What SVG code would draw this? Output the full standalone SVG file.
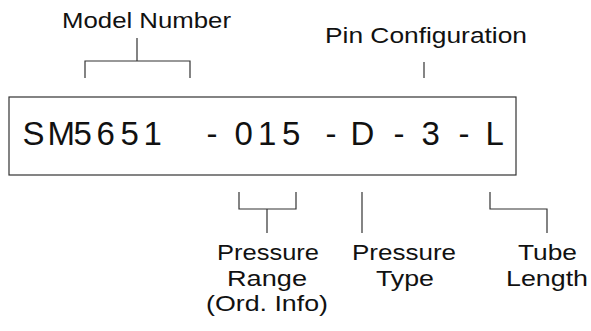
<svg xmlns="http://www.w3.org/2000/svg" width="591" height="331" viewBox="0 0 591 331">
<style>
.lbl{font-family:"Liberation Sans",Arial,sans-serif;font-size:22px;fill:#111}
.main{font-family:"Liberation Sans",Arial,sans-serif;font-size:33px;fill:#111}
.ln{fill:none;stroke:#333;stroke-width:1.2}
</style>
<rect width="591" height="331" fill="#fff"/>
<g id="part-number">
<rect class="ln" x="9" y="97" width="507" height="78"/>
<text class="main" x="22.4 47.6 73.6 96.6 120.6 143.5 206.6 234.5 258 282 325.6 350.5 393.6 421.6 458.6 485.6" y="145">SM5651-015-D-3-L</text>
</g>
<g id="model-number"><text class="lbl" x="62" y="28" textLength="169" lengthAdjust="spacingAndGlyphs">Model Number</text></g>
<g id="pin-configuration"><text class="lbl" x="325" y="43" textLength="202" lengthAdjust="spacingAndGlyphs">Pin Configuration</text></g>
<g id="pressure-range">
<text class="lbl" x="217" y="260" textLength="102" lengthAdjust="spacingAndGlyphs">Pressure</text>
<text class="lbl" x="227" y="286" textLength="80" lengthAdjust="spacingAndGlyphs">Range</text>
<text class="lbl" x="206" y="311" textLength="122" lengthAdjust="spacingAndGlyphs">(Ord. Info)</text>
</g>
<g id="pressure-type">
<text class="lbl" x="352" y="260" textLength="104" lengthAdjust="spacingAndGlyphs">Pressure</text>
<text class="lbl" x="376" y="286" textLength="58" lengthAdjust="spacingAndGlyphs">Type</text>
</g>
<g id="tube-length">
<text class="lbl" x="518" y="260" textLength="59" lengthAdjust="spacingAndGlyphs">Tube</text>
<text class="lbl" x="506" y="286" textLength="82" lengthAdjust="spacingAndGlyphs">Length</text>
</g>
<g id="connectors">
<path class="ln" d="M85 78V61H190V78M137 61V38"/>
<path class="ln" d="M424 62V78"/>
<path class="ln" d="M239 192V209H296V192M267 209V233"/>
<path class="ln" d="M362 192V233"/>
<path class="ln" d="M490 192V209H547V233"/>
</g>
</svg>
